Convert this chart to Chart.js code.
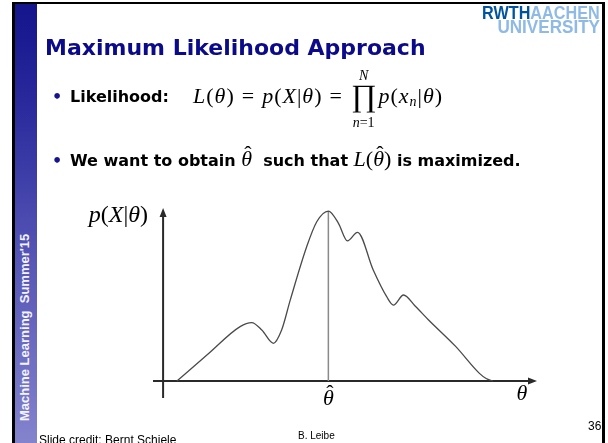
<!DOCTYPE html>
<html>
<head>
<meta charset="utf-8">
<title>Maximum Likelihood Approach</title>
<script src="https://cdn.jsdelivr.net/npm/chart.js@4.4.1/dist/chart.umd.min.js"></script>
<style>
  html, body { margin: 0; padding: 0; background: #fff; }
  #slide { position: relative; width: 608px; height: 443px; overflow: hidden; background: #fff; }
  #plot { position: absolute; left: 0; top: 0; }
  .rule { position: absolute; background: #000; }
  #sidebar { position: absolute; left: 15px; top: 4px; width: 22px; height: 439px;
    background: linear-gradient(to bottom, #14148c 0%, #2c2c9e 25%, #5252b4 55%, #8383cd 100%); }
  #sidebar span { position: absolute; left: 3px; top: 417px; transform-origin: 0 0; transform: rotate(-90deg);
    font: bold 13px/13px "Liberation Sans", Arial, sans-serif; color: #f4f4ff; white-space: pre; }
  #logo1, #logo2 { position: absolute; right: 8px; font-family: "Liberation Sans", Arial, sans-serif;
    font-weight: bold; white-space: nowrap; line-height: 1; transform-origin: right top; }
  #logo1 { top: 3.5px; font-size: 18px; transform: scaleX(0.9); }
  #logo2 { top: 17px; font-size: 19px; transform: scaleX(0.9); color: #8ebae5; }
  .rwth { color: #00549f; }
  .aachen { color: #8ebae5; }
  #title { position: absolute; left: 45px; top: 37px; font: bold 22px/22px "DejaVu Sans", sans-serif;
    color: #0a0a8a; white-space: nowrap; }
  .txt { position: absolute; font: bold 16px/16px "DejaVu Sans", sans-serif; color: #000; white-space: nowrap; }
  .dot { display: inline-block; width: 18px; color: #14148c; }
  .m { font-family: "Liberation Serif", "DejaVu Serif", serif; font-weight: normal; font-size: 22px; }
  .m i, i.m { font-style: italic; }
  .wide { letter-spacing: 1px; }
  .eq { padding: 0 7px; }
  .prod { position: relative; display: inline-block; font-size: 31px; line-height: 16px; margin: 0 2px 0 1px; top: 3px; letter-spacing: 0; }
  .lim { position: absolute; left: 50%; transform: translateX(-50%); font-size: 14px; line-height: 14px; white-space: nowrap; }
  .hat { position: relative; display: inline-block; font-style: italic; }
  .hat::after { content: "\02C6"; position: absolute; left: 3px; top: -5px; font-style: normal; }
  sub { font-size: 14px; vertical-align: -3px; line-height: 0; }
  .foot { position: absolute; font-family: "Liberation Sans", Arial, sans-serif; color: #000; white-space: nowrap; }
</style>
</head>
<body>
<div id="slide">
  <canvas id="plot" width="608" height="443"></canvas>

  <div class="rule" style="left:12px; top:2px; width:593px; height:2px"></div>
  <div class="rule" style="left:12px; top:2px; width:3px; height:441px"></div>
  <div class="rule" style="left:602px; top:2px; width:3px; height:441px"></div>
  <div id="sidebar"><span>Machine Learning  Summer'15</span></div>

  <div id="logo1"><span class="rwth">RWTH</span><span class="aachen">AACHEN</span></div>
  <div id="logo2">UNIVERSITY</div>

  <div id="title">Maximum Likelihood Approach</div>

  <div class="txt" style="left:52px; top:89px"><span class="dot">•</span>Likelihood:</div>
  <div class="m wide" style="position:absolute; left:193px; top:84.6px; line-height:22px; white-space:nowrap">
    <i>L</i>(<i>θ</i>)<span class="eq">=</span><i>p</i>(<i>X</i>|<i>θ</i>)<span class="eq">=</span><span class="prod">∏<span class="lim" style="top:-19px"><i>N</i></span><span class="lim" style="top:28px"><i>n</i>=1</span></span><i>p</i>(<i>x</i><sub><i>n</i></sub>|<i>θ</i>)
  </div>

  <div class="txt" style="left:52px; top:151px"><span class="dot">•</span>We want to obtain <span class="m"><span class="hat">θ</span></span>&nbsp; such that <span class="m"><i>L</i>(<span class="hat">θ</span>)</span> is maximized.</div>

  <div class="foot" style="left:39px; top:434px; font-size:12px; line-height:12px">Slide credit: Bernt Schiele</div>
  <div class="foot" style="left:298px; top:431px; font-size:10px; line-height:10px">B. Leibe</div>
  <div class="foot" style="left:588px; top:420px; font-size:12px; line-height:12px">36</div>
</div>

<script>
// likelihood curve (theta, p(X|theta) normalised to the peak)
const thetaVals = [0.37, 1.21, 2.06, 2.37, 2.64, 2.95, 3.17, 3.40, 3.84, 4.11, 4.42, 4.69, 4.93, 5.20,
                   5.62, 5.98, 6.16, 6.43, 6.74, 7.10, 7.83, 8.46, 8.64, 8.82];
const likelihoodVals = [0, 0.16, 0.32, 0.343, 0.30, 0.222, 0.30, 0.476, 0.79, 0.937, 1.0, 0.928, 0.825, 0.875,
                        0.653, 0.496, 0.447, 0.506, 0.441, 0.359, 0.202, 0.045, 0.015, 0];
const thetaRange = [-0.27, 10];
const pRange = [-0.1, 1.018];

// maximum of the curve -> theta hat
const peakIdx = likelihoodVals.indexOf(Math.max(...likelihoodVals));
const thetaHat = thetaVals[peakIdx];
const peakVal = likelihoodVals[peakIdx];

const mathFont = (size, italic) => (italic ? 'italic ' : '') + size + 'px "Liberation Serif", "DejaVu Serif", serif';

// draw a run of [text, italic] pieces on one baseline
function drawRun(ctx, parts, x, y, align, size) {
  let total = 0;
  const widths = parts.map(([t, it]) => {
    ctx.font = mathFont(size, it);
    const w = ctx.measureText(t).width;
    total += w;
    return w;
  });
  let cx = align === 'right' ? x - total : align === 'center' ? x - total / 2 : x;
  ctx.textAlign = 'left';
  ctx.textBaseline = 'alphabetic';
  parts.forEach(([t, it], i) => {
    ctx.font = mathFont(size, it);
    ctx.fillText(t, cx, y);
    cx += widths[i];
  });
}

const axisArrows = {
  id: 'axisArrows',
  beforeDatasetsDraw(chart) {
    const { ctx, chartArea: a, scales: { x, y } } = chart;
    const x0 = x.getPixelForValue(0);
    const y0 = y.getPixelForValue(0);
    ctx.save();
    ctx.strokeStyle = '#2a2a2a';
    ctx.fillStyle = '#2a2a2a';
    ctx.lineWidth = 2;
    ctx.beginPath();
    ctx.moveTo(a.left, y0);
    ctx.lineTo(a.right - 6, y0);
    ctx.moveTo(x0, a.bottom);
    ctx.lineTo(x0, a.top + 6);
    ctx.stroke();
    // arrow heads
    ctx.beginPath();
    ctx.moveTo(a.right, y0);
    ctx.lineTo(a.right - 9, y0 - 3.5);
    ctx.lineTo(a.right - 9, y0 + 3.5);
    ctx.closePath();
    ctx.moveTo(x0, a.top);
    ctx.lineTo(x0 - 3.5, a.top + 9);
    ctx.lineTo(x0 + 3.5, a.top + 9);
    ctx.closePath();
    ctx.fill();
    ctx.restore();
  }
};

const axisLabels = {
  id: 'axisLabels',
  afterDraw(chart) {
    const { ctx, chartArea: a, scales: { x, y } } = chart;
    const x0 = x.getPixelForValue(0);
    const y0 = y.getPixelForValue(0);
    ctx.save();
    ctx.fillStyle = '#000';
    drawRun(ctx, [['p', true], ['(', false], ['X', true], ['|', false], ['θ', true], [')', false]],
      x0 - 15, a.top + 14, 'right', 24);
    // theta hat below the maximum
    const xh = x.getPixelForValue(thetaHat);
    drawRun(ctx, [['θ', true]], xh, y0 + 24, 'center', 22);
    ctx.font = mathFont(22, false);
    ctx.textAlign = 'center';
    ctx.fillText('\u02C6', xh + 1.5, y0 + 19);
    drawRun(ctx, [['θ', true]], a.right - 15, y0 + 19, 'center', 22);
    ctx.restore();
  }
};

new Chart(document.getElementById('plot'), {
  type: 'scatter',
  data: {
    datasets: [
      {
        data: thetaVals.map((t, i) => ({ x: t, y: likelihoodVals[i] })),
        showLine: true,
        borderColor: '#4a4a4a',
        borderWidth: 1.3,
        pointRadius: 0,
        cubicInterpolationMode: 'monotone',
        order: 1
      },
      {
        data: [{ x: thetaHat, y: 0 }, { x: thetaHat, y: peakVal }],
        showLine: true,
        borderColor: '#8a8a8a',
        borderWidth: 1.5,
        pointRadius: 0,
        order: 2
      }
    ]
  },
  options: {
    responsive: false,
    animation: false,
    layout: { padding: { left: 153, right: 71, top: 208, bottom: 45 } },
    plugins: { legend: { display: false }, tooltip: { enabled: false } },
    scales: {
      x: { type: 'linear', display: false, min: thetaRange[0], max: thetaRange[1] },
      y: { type: 'linear', display: false, min: pRange[0], max: pRange[1] }
    }
  },
  plugins: [axisArrows, axisLabels]
});
</script>
</body>
</html>
